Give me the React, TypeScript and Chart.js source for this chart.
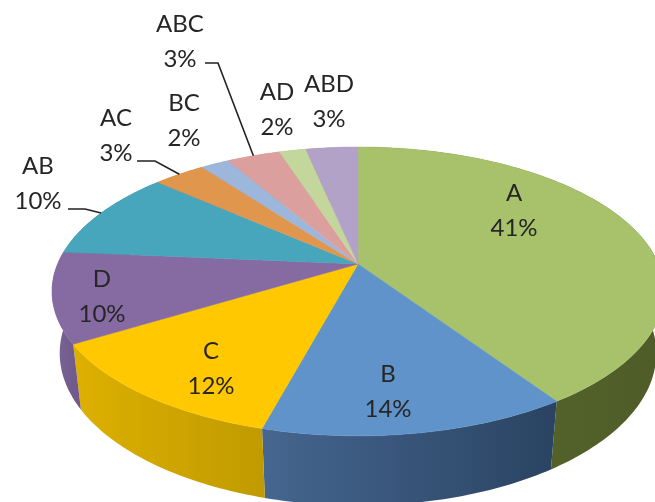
import React, { useEffect, useRef } from "react";
import { Chart, registerables } from "chart.js";

Chart.register(...registerables);

const categories = ["A", "B", "C", "D", "AB", "AC", "BC", "ABC", "AD", "ABD"];
const shares = [40.6, 13.6, 12.1, 10.1, 10.1, 3.3, 1.8, 3.4, 1.7, 3.3];
const topColors = ["#A8C26C", "#5F93C9", "#FFC800", "#866BA3", "#47A5BC", "#E0964C", "#9DB6DC", "#DBA09E", "#C3D69B", "#B3A2C7"];
const wallLeft = ["#5A6A2C", "#45668F", "#DDB000", "#7A6296", "#3C8CA0", "#BE7F40", "#8599BA", "#BA8886", "#A5B683", "#988AA9"];
const wallRight = ["#4F5C28", "#2A4362", "#C09A00", "#6F5A8A", "#3C8CA0", "#BE7F40", "#8599BA", "#BA8886", "#A5B683", "#988AA9"];

// label centre (x, y of the first line) for each category, and the leader-line elbows
const labelAnchors = [
  [514, 193], [388, 374], [211, 351], [102, 279], [38, 166],
  [116, 118], [184, 103], [180, 24], [277, 92], [329, 84],
];
const leaderStarts: Record<string, [number, number][]> = {
  AB: [[68, 209], [85, 209]],
  AC: [[137, 161], [155, 161]],
  ABC: [[205, 63], [218, 63]],
};

const LINE_GAP = 35;
const PERSPECTIVE = 0.19;
const WALL_DEPTH = 0.025;
const WALL_DROP = 62.5;

type Pt = [number, number];

function projector(arc: any) {
  const R = arc.outerRadius;
  const X0 = arc.x + 30.5;
  const Y0 = arc.y + 13;
  const a = R * 1.197;
  const b = R * 0.5546;
  const at = (ang: number, depth: number, drop: number): Pt => {
    const t = ang + Math.PI / 2;
    const u = Math.sin(t);
    const v = -Math.cos(t);
    const w = 1 - PERSPECTIVE * v + depth;
    return [X0 + (a * u) / w, Y0 + (b * v + drop) / w];
  };
  return {
    X0,
    Y0,
    rim: (ang: number) => at(ang, 0, 0),
    base: (ang: number) => at(ang, WALL_DEPTH, WALL_DROP),
  };
}

function arcPoints(f: (a: number) => Pt, s: number, e: number): Pt[] {
  const n = Math.max(4, Math.ceil(((e - s) * 180) / Math.PI));
  const out: Pt[] = [];
  for (let i = 0; i <= n; i++) out.push(f(s + ((e - s) * i) / n));
  return out;
}

const pie3d = {
  id: "pie3d",
  beforeDatasetDraw(chart: any) {
    const ctx: CanvasRenderingContext2D = chart.ctx;
    const arcs = chart.getDatasetMeta(0).data;
    const order = arcs.map((_: any, i: number) => i);
    ctx.save();
    // side walls
    order.forEach((i: number) => {
      const el = arcs[i];
      const p = projector(el);
      const top = arcPoints(p.rim, el.startAngle, el.endAngle);
      const bot = arcPoints(p.base, el.startAngle, el.endAngle);
      const xs = top.concat(bot).map((q) => q[0]);
      const g = ctx.createLinearGradient(Math.min(...xs), 0, Math.max(...xs), 0);
      g.addColorStop(0, wallLeft[i]);
      g.addColorStop(1, wallRight[i]);
      ctx.fillStyle = g;
      ctx.beginPath();
      top.forEach((q, k) => (k ? ctx.lineTo(q[0], q[1]) : ctx.moveTo(q[0], q[1])));
      bot.reverse().forEach((q) => ctx.lineTo(q[0], q[1]));
      ctx.closePath();
      ctx.fill();
    });
    // top faces
    order.forEach((i: number) => {
      const el = arcs[i];
      const p = projector(el);
      ctx.fillStyle = topColors[i];
      ctx.strokeStyle = topColors[i];
      ctx.lineWidth = 0.5;
      ctx.beginPath();
      ctx.moveTo(p.X0, p.Y0);
      arcPoints(p.rim, el.startAngle, el.endAngle).forEach((q) => ctx.lineTo(q[0], q[1]));
      ctx.closePath();
      ctx.fill();
      ctx.stroke();
    });
    ctx.restore();
    return false;
  },
  afterDatasetsDraw(chart: any) {
    const ctx: CanvasRenderingContext2D = chart.ctx;
    const arcs = chart.getDatasetMeta(0).data;
    const values: number[] = chart.data.datasets[0].data;
    const total = values.reduce((s, v) => s + v, 0);
    ctx.save();
    ctx.strokeStyle = "#222";
    ctx.lineWidth = 1.6;
    chart.data.labels.forEach((name: string, i: number) => {
      const lead = leaderStarts[name];
      if (!lead) return;
      const el = arcs[i];
      const end = projector(el).rim((el.startAngle + el.endAngle) / 2);
      ctx.beginPath();
      ctx.moveTo(lead[0][0], lead[0][1]);
      ctx.lineTo(lead[1][0], lead[1][1]);
      ctx.lineTo(end[0], end[1]);
      ctx.stroke();
    });
    ctx.fillStyle = "#262626";
    ctx.font = "24px Lato";
    ctx.textAlign = "center";
    ctx.textBaseline = "middle";
    chart.data.labels.forEach((name: string, i: number) => {
      const [x, y] = labelAnchors[i];
      ctx.fillText(name, x, y);
      ctx.fillText(`${Math.round((values[i] / total) * 100)}%`, x, y + LINE_GAP);
    });
    ctx.restore();
  },
};

export default function App() {
  const ref = useRef<HTMLCanvasElement>(null);
  useEffect(() => {
    const chart = new Chart(ref.current!, {
      type: "pie",
      data: {
        labels: categories,
        datasets: [{ data: shares, backgroundColor: topColors, borderWidth: 0 }],
      },
      options: {
        animation: false,
        responsive: false,
        layout: { padding: 0 },
        plugins: { legend: { display: false }, tooltip: { enabled: false } },
      },
      plugins: [pie3d],
    } as any);
    return () => chart.destroy();
  }, []);
  return (
    <div style={{ position: "fixed", left: 0, top: 0, width: 655, height: 502, background: "#fff", overflow: "hidden" }}>
      <canvas ref={ref} width={655} height={502} style={{ display: "block", filter: "blur(0.5px)" }} />
    </div>
  );
}
